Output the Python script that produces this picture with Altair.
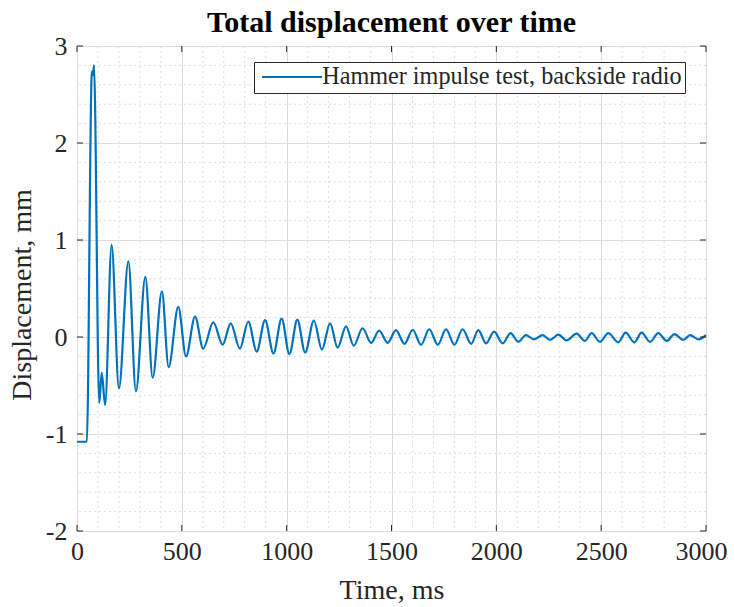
import altair as alt
import pandas as pd

# ---- data ----
time_ms = [0, 47, 70, 74, 77, 81, 106, 118, 134, 165, 200, 245, 281, 326, 361, 405, 437,
           483, 520, 563, 602, 650, 695, 733, 777, 817, 857, 897, 937, 976, 1013, 1051,
           1088, 1130, 1168, 1207, 1243, 1283, 1320, 1362, 1403, 1441, 1482, 1521, 1562,
           1601, 1641, 1680, 1721, 1760, 1800, 1839, 1880, 1914, 1951, 1989, 2030, 2068,
           2105, 2141, 2180, 2221, 2256, 2296, 2335, 2383, 2422, 2455, 2494, 2534, 2581,
           2617, 2658, 2693, 2733, 2772, 2813, 2849, 2892, 2924, 2964, 3000]
disp_mm = [-1.08, -1.08, 2.70, 2.74, 2.70, 2.80, -0.68, -0.37, -0.70, 0.95, -0.53, 0.78,
           -0.56, 0.62, -0.42, 0.47, -0.31, 0.31, -0.20, 0.21, -0.12, 0.15, -0.08, 0.14,
           -0.12, 0.16, -0.15, 0.175, -0.17, 0.19, -0.175, 0.18, -0.16, 0.17, -0.13, 0.14,
           -0.11, 0.11, -0.09, 0.09, -0.06, 0.065, -0.06, 0.07, -0.07, 0.075, -0.08, 0.08,
           -0.08, 0.08, -0.08, 0.08, -0.07, 0.07, -0.065, 0.055, -0.065, 0.04, -0.05, 0.02,
           -0.025, 0.02, -0.03, 0.025, -0.035, 0.035, -0.04, 0.04, -0.05, 0.04, -0.055,
           0.045, -0.055, 0.045, -0.05, 0.04, -0.04, 0.03, -0.03, 0.02, -0.025, 0.02]
series_name = "Hammer impulse test, backside radio"

x_major = [0, 500, 1000, 1500, 2000, 2500, 3000]
y_major = [-2, -1, 0, 1, 2, 3]
x_minor = [v for v in range(100, 3000, 100) if v % 500 != 0]
y_minor = [round(-2 + 0.2 * i, 1) for i in range(1, 25) if (i % 5) != 0]

W, H = 629, 485
FONT = "Liberation Serif"
INK = "#262626"

df = pd.DataFrame({"t": time_ms, "v": disp_mm, "s": [series_name] * len(time_ms)})
gx = pd.DataFrame({"x": x_minor})
gy = pd.DataFrame({"y": y_minor})
tx = pd.DataFrame({"x": x_major})
ty = pd.DataFrame({"y": y_major})

xs = alt.Scale(domain=[0, 3000], nice=False, zero=False)
ys = alt.Scale(domain=[-2, 3], nice=False, zero=False)

x_axis = alt.Axis(values=x_major, labelExpr="'' + datum.value", grid=True,
                  gridColor="#dcdcdc", gridWidth=1,
                  ticks=False, domain=False, labelFont=FONT, labelFontSize=26,
                  labelColor=INK, labelPadding=7, labelFlush=False, labelOverlap=False,
                  labelOffset={"condition": {"test": "datum.value == 3000", "value": -5},
                               "value": 0},
                  title="Time, ms", titleFont=FONT,
                  titleFontSize=28, titleFontWeight="normal", titleColor=INK,
                  titlePadding=12)
y_axis = alt.Axis(values=y_major, labelExpr="'' + datum.value", grid=True,
                  gridColor="#dcdcdc", gridWidth=1,
                  ticks=False, domain=False, labelFont=FONT, labelFontSize=26,
                  labelColor=INK, labelPadding=10, labelFlush=False, labelOverlap=False,
                  title="Displacement, mm", titleFont=FONT,
                  titleFontSize=28, titleFontWeight="normal", titleColor=INK,
                  titleX=-41, titleY=H / 2 + 6, titleAngle=270, titleAlign="center",
                  titleBaseline="bottom")

minor_x = alt.Chart(gx).mark_rule(color="#dedede", strokeDash=[2, 3], strokeWidth=1).encode(
    x=alt.X("x:Q", scale=xs, axis=x_axis))
minor_y = alt.Chart(gy).mark_rule(color="#dedede", strokeDash=[2, 3], strokeWidth=1).encode(
    y=alt.Y("y:Q", scale=ys, axis=y_axis))

line = alt.Chart(df).mark_line(strokeWidth=2.2, interpolate="monotone").encode(
    x=alt.X("t:Q", scale=xs, axis=x_axis),
    y=alt.Y("v:Q", scale=ys, axis=y_axis),
    color=alt.Color("s:N", scale=alt.Scale(range=["#0072BD"]),
                    legend=alt.Legend(title=None, orient="none", legendX=177, legendY=16,
                                      strokeColor=INK, fillColor="white", padding=3,
                                      symbolType="M-4,0H4", symbolSize=225,
                                      symbolStrokeWidth=2, symbolOffset=23,
                                      labelOffset=18, labelFont=FONT,
                                      labelFontSize=24.2, labelColor=INK, labelLimit=600,
                                      cornerRadius=0)),
)

TK = 6
tick_bot = alt.Chart(tx).mark_rule(color=INK).encode(
    x=alt.X("x:Q", scale=xs), y=alt.value(H), y2=alt.value(H - TK))
tick_top = alt.Chart(tx).mark_rule(color=INK).encode(
    x=alt.X("x:Q", scale=xs), y=alt.value(0), y2=alt.value(TK))
tick_left = alt.Chart(ty).mark_rule(color=INK).encode(
    y=alt.Y("y:Q", scale=ys), x=alt.value(0), x2=alt.value(TK))
tick_right = alt.Chart(ty).mark_rule(color=INK).encode(
    y=alt.Y("y:Q", scale=ys), x=alt.value(W), x2=alt.value(W - TK))

chart = alt.layer(minor_x, minor_y, line, tick_bot, tick_top, tick_left, tick_right).properties(
    width=W, height=H,
    title=alt.Title("Total displacement over time", font=FONT, fontSize=30,
                    fontWeight="bold", color="black", offset=0, dy=5),
    autosize=alt.AutoSizeParams(type="none"),
    padding={"left": 69, "top": 38, "right": 21, "bottom": 76},
).configure_view(stroke=INK, strokeWidth=1).configure(background="white")

chart.save("out.html", embed_options={"renderer": "svg", "actions": False})
